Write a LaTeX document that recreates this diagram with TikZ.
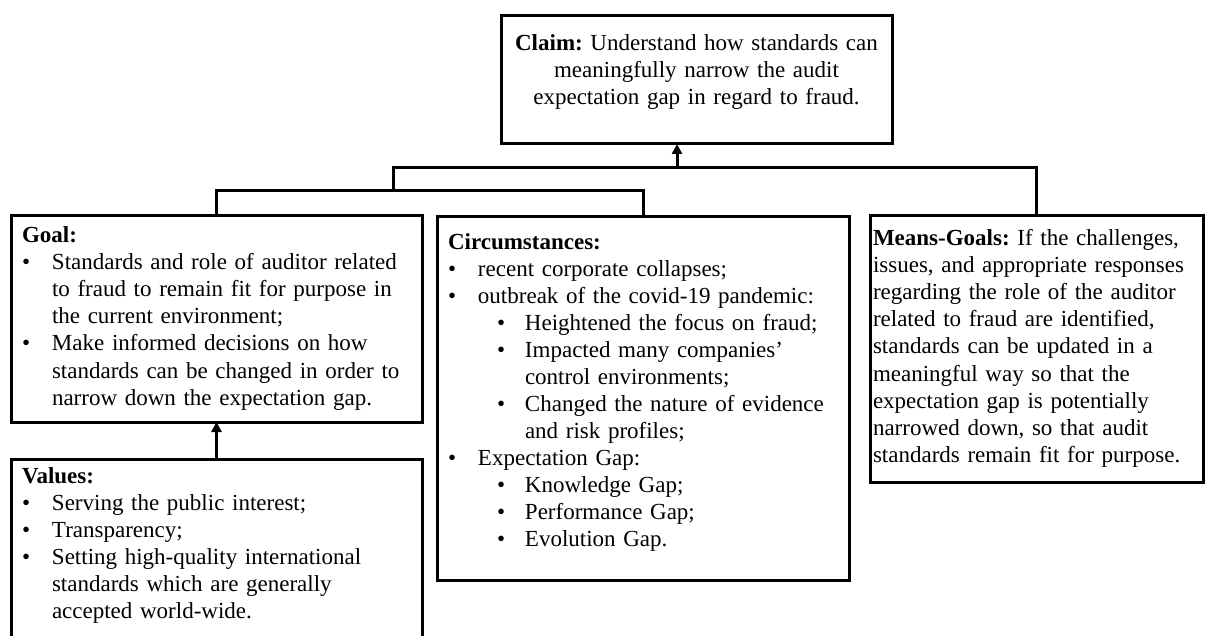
\documentclass[tikz,border=0pt]{standalone}
\usepackage{fontspec}
\setmainfont{Liberation Serif}
\usetikzlibrary{arrows.meta}
\newcommand{\bi}[1]{\par\hangindent=30pt\hangafter=1\noindent\makebox[30pt][l]{\textbullet}#1}
\newcommand{\bii}[1]{\par\hangindent=77pt\hangafter=1\noindent\hspace*{49pt}\makebox[28pt][l]{\textbullet}#1}
\tikzset{
  box/.style={draw=black, line width=3pt, rectangle, inner sep=0pt, outer sep=0pt, anchor=north west},
  txt/.style={inner sep=0pt, outer sep=0pt, anchor=base west, font=\fontsize{23}{27}\selectfont\frenchspacing},
  conn/.style={draw=black, line width=3pt, line join=miter},
  arr/.style={conn, -{Triangle[width=10pt,length=10pt]}}
}
\begin{document}
\begin{tikzpicture}[x=1pt,y=-1pt]
\useasboundingbox (0,0) rectangle (1206,636);
% boxes
\node[box, minimum width=391pt, minimum height=128pt] (claim) at (501,16) {};
\node[box, minimum width=411pt, minimum height=206pt] (goal) at (11,216) {};
\node[box, minimum width=412pt, minimum height=363pt] (circ) at (437,217) {};
\node[box, minimum width=333pt, minimum height=266pt] (means) at (870,216) {};
\begin{scope}
\clip (0,0) rectangle (1206,636);
\node[box, minimum width=411pt, minimum height=200pt] (values) at (11,459) {};
\end{scope}
% texts
\node[txt, anchor=base, align=center, text width=390pt] (claimtxt) at (696.5,51)
  {\textbf{Claim:} Understand how standards can\\ meaningfully narrow the audit\\ expectation gap in regard to fraud.};
\node[txt, text width=405pt] (goaltxt) at (22,243)
  {\noindent\textbf{Goal:}
   \bi{Standards and role of auditor related\newline to fraud to remain fit for purpose in\newline the current environment;}
   \bi{Make informed decisions on how\newline standards can be changed in order to\newline narrow down the expectation gap.}\par};
\node[txt, text width=405pt] (circtxt) at (448,249)
  {\noindent\textbf{Circumstances:}
   \bi{recent corporate collapses;}
   \bi{outbreak of the covid-19 pandemic:}
   \bii{Heightened the focus on fraud;}
   \bii{Impacted many companies'\newline control environments;}
   \bii{Changed the nature of evidence\newline and risk profiles;}
   \bi{Expectation Gap:}
   \bii{Knowledge Gap;}
   \bii{Performance Gap;}
   \bii{Evolution Gap.}\par};
\node[txt, text width=340pt] (meanstxt) at (873,246)
  {\noindent\textbf{Means-Goals:} If the challenges,\newline issues, and appropriate responses\newline regarding the role of the auditor\newline related to fraud are identified,\newline standards can be updated in a\newline meaningful way so that the\newline expectation gap is potentially\newline narrowed down, so that audit\newline standards remain fit for purpose.\par};
\node[txt, text width=405pt] (valuestxt) at (22,483)
  {\noindent\textbf{Values:}
   \bi{Serving the public interest;}
   \bi{Transparency;}
   \bi{Setting high-quality international\newline standards which are generally\newline accepted world-wide.}\par};
% connectors
\coordinate (b1) at (393,168);
\coordinate (b2) at (393,191);
\coordinate (a1) at (677,168);
\draw[conn] (goal.north) |- (b2);
\draw[conn] (circ.north) |- (b2);
\draw[conn] (b2) -- (b1) -| (means.north);
\draw[arr] (a1) -- (a1 |- claim.south);
\draw[arr] (values.north) -- (goal.south);
\end{tikzpicture}
\end{document}
